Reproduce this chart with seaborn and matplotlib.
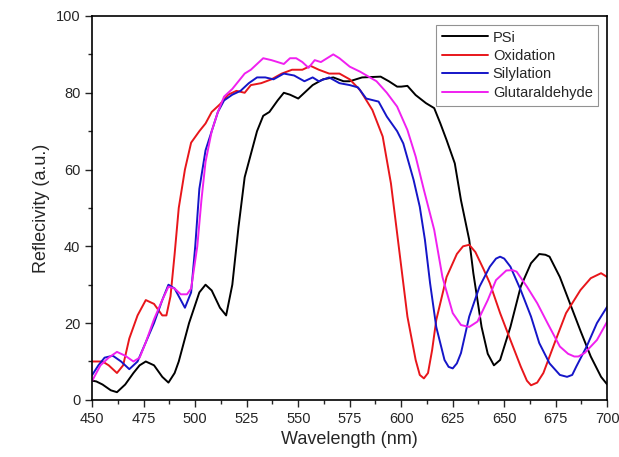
import numpy as np
import pandas as pd
import matplotlib
matplotlib.use('Agg')
import matplotlib.pyplot as plt
import seaborn as sns

# Data
psi_wl = [450, 452, 455, 459, 462, 466, 470, 473, 476, 480, 484, 487, 490, 492, 497, 502,
          505, 508, 512, 515, 518, 521, 524, 527, 530, 533, 536, 540, 543, 546, 550, 553,
          557, 562, 567, 572, 575, 581, 590, 594, 598, 600, 603, 607, 612, 616, 619, 622,
          626, 629, 633, 635, 639, 642, 645, 648, 653, 658, 663, 667, 670, 672, 677, 682,
          687, 692, 697, 700]
psi_r = [5, 4.8, 4, 2.5, 2, 4, 7, 9, 10, 9, 6, 4.5, 7, 10, 20, 28,
         30, 28.5, 24, 22, 30, 45, 58, 64, 70, 74, 75, 78, 80, 79.5, 78.5, 80,
         82, 83.5, 84, 83, 83, 84, 84.2, 83, 81.6, 81.6, 81.8, 79.4, 77.3, 76, 72, 67.7,
         61.6, 52, 41.7, 33, 19, 12, 9, 10.4, 19, 29.5, 35.6, 38, 37.8, 37.3, 32, 25,
         18, 11.3, 6, 4]

ox_wl = [450, 455, 458, 462, 465, 468, 472, 476, 480, 484, 486, 488, 490, 492, 495, 498,
         502, 505, 508, 512, 516, 520, 524, 527, 532, 537, 542, 547, 552, 556, 560, 565,
         570, 575, 580, 586, 591, 595, 598, 603, 607, 609, 611, 613, 615, 617, 622, 627,
         630, 633, 636, 640, 643, 648, 653, 658, 661, 663, 666, 669, 675, 680, 687, 692,
         697, 700]
ox_r = [10, 10, 9, 7, 9, 16, 22, 26, 25, 22, 22, 27, 38, 50, 60, 67,
        70, 72, 75, 77, 79.5, 80.5, 80, 82, 82.5, 83.5, 85, 86, 86, 87, 86, 85,
        85, 83.5, 80.7, 75.5, 68.6, 56.4, 43.4, 21.7, 10.4, 6.5, 5.6, 7, 13, 20.8, 32, 38,
        40, 40.4, 38.5, 34, 30.4, 22.6, 15.6, 8.7, 5, 3.8, 4.5, 7, 15.6, 22.6, 28.6, 31.7,
        33, 32]

sil_wl = [450, 453, 456, 460, 464, 468, 472, 476, 480, 484, 487, 490, 493, 495, 498, 500,
          502, 505, 508, 511, 514, 518, 522, 526, 530, 534, 538, 543, 548, 553, 557, 560,
          565, 570, 575, 579, 583, 589, 593, 598, 601, 606, 609, 611.5, 614, 617, 621, 623,
          625, 627, 629, 633, 638, 643, 646, 648, 650, 653, 658, 663, 667, 672, 677, 680.5,
          683, 685, 690, 695, 700]
sil_r = [6.5, 9, 11, 11.5, 10, 8, 10, 15, 20, 26, 30, 29, 26, 24, 28, 40,
         55, 65, 70, 75, 78, 79.5, 80.5, 82.5, 84, 84, 83.5, 85, 84.5, 83, 84, 83,
         84, 82.5, 82, 81.4, 78.5, 77.7, 73.8, 70, 66.8, 57.3, 50.3, 41.7, 30.4, 19, 10.4, 8.6,
         8.2, 9.5, 12.2, 21.7, 29.5, 34.7, 36.8, 37.3, 36.8, 34.7, 28.6, 21.7, 14.8, 9.5, 6.5, 6,
         6.5, 8.7, 13.9, 20, 24.3]

glu_wl = [450, 454, 458, 462, 466, 470, 473, 476, 480, 484, 487, 490, 493, 496, 498, 501,
          503, 505, 508, 511, 514, 518, 521, 524, 527, 530, 533, 537, 540, 543, 546, 549,
          552, 555, 558, 561, 564, 567, 570, 575, 580, 588, 593, 598, 603, 607, 611, 616,
          620, 625, 629, 633, 637, 642, 646, 651, 654, 656, 661, 666, 671, 677, 681, 684,
          686, 689, 695, 700]
glu_r = [5, 9, 11, 12.5, 11.5, 10, 11, 15, 21, 26, 29.5, 29, 27.5, 27.5, 29, 40,
         52, 62, 70, 75, 79, 81, 83, 85, 86, 87.5, 89, 88.5, 88, 87.5, 89, 89,
         88, 86.5, 88.5, 88, 89, 90, 89, 86.8, 85.5, 83, 80, 76.4, 70.3, 63.4, 54.7, 44.3,
         32, 22.6, 19.5, 19, 20.4, 26, 31.2, 33.7, 33.8, 33.4, 29.5, 25.2, 20, 13.9, 12, 11.3,
         11.3, 12.2, 15.6, 20.4]

labels = ['PSi', 'Oxidation', 'Silylation', 'Glutaraldehyde']
colors = ['#000000', '#e8161b', '#1515c8', '#f020f0']

frames = []
for lab, wl, r in zip(labels, [psi_wl, ox_wl, sil_wl, glu_wl], [psi_r, ox_r, sil_r, glu_r]):
    frames.append(pd.DataFrame({'Wavelength': wl, 'Reflectivity': r, 'Sample': lab}))
df = pd.concat(frames, ignore_index=True)

sns.set_style('ticks')
plt.rcParams['font.family'] = ['Liberation Sans', 'DejaVu Sans']

fig = plt.figure(figsize=(6.19, 4.57), dpi=100)
ax = fig.add_axes([0.149, 0.125, 0.832, 0.84])
sns.lineplot(data=df, x='Wavelength', y='Reflectivity', hue='Sample', hue_order=labels,
             palette=colors, linewidth=1.4, sort=False, estimator=None, ax=ax)

ax.set_xlim(450, 700)
ax.set_ylim(0, 100)
ax.set_xticks(np.arange(450, 701, 25))
ax.set_yticks(np.arange(0, 101, 20))
ax.set_xticks(np.arange(462.5, 700, 25), minor=True)
ax.set_yticks(np.arange(10, 100, 20), minor=True)
ax.tick_params(which='major', direction='out', length=5, width=1, labelsize=10.5)
ax.tick_params(which='minor', direction='out', length=3, width=1)
ax.set_xlabel('Wavelength (nm)', fontsize=13)
ax.set_ylabel('Reflecivity (a.u.)', fontsize=13)
for s in ax.spines.values():
    s.set_visible(True)
    s.set_linewidth(1.2)
    s.set_color('black')

leg = ax.legend(loc='upper right', fontsize=10.5, handlelength=3.2, frameon=True,
                fancybox=False, borderaxespad=0.6, handletextpad=0.3, labelspacing=0.3)
leg.set_title(None)
leg.get_frame().set_edgecolor('#777777')
leg.get_frame().set_linewidth(0.8)

fig.savefig('out.png', dpi=100)
